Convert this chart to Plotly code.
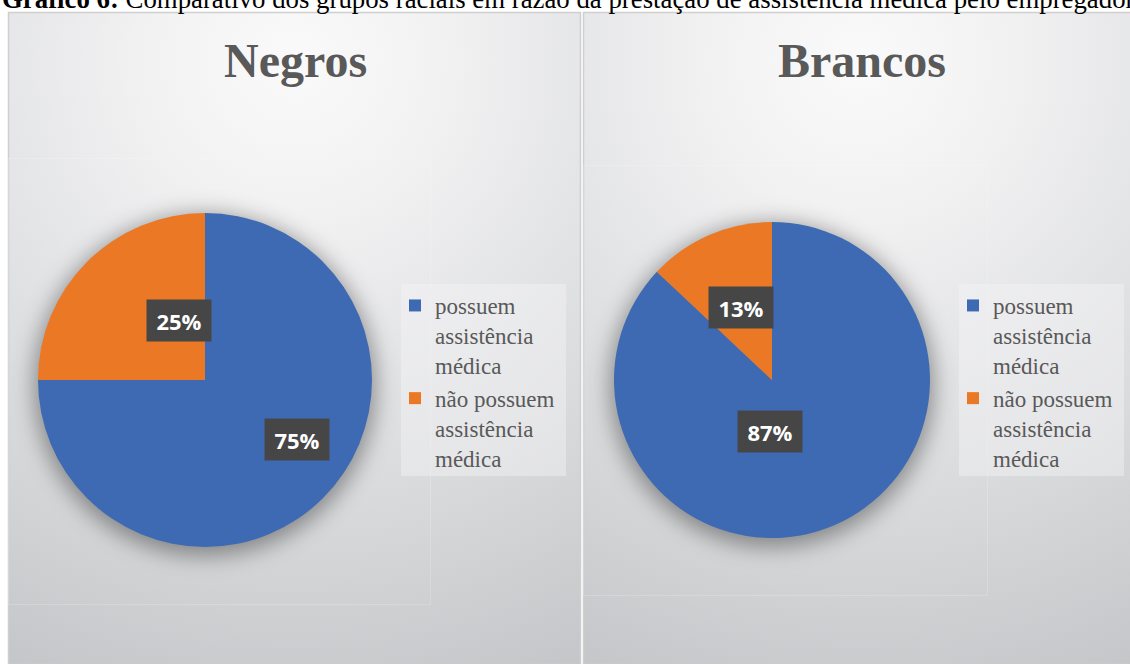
import math
import base64
import plotly.graph_objects as go

W, H = 1130, 664

# ---- data -------------------------------------------------------------
caption_bold = "Gráfico 6:"
caption_text = " Comparativo dos grupos raciais em razão da prestação de assistência médica pelo empregador"
groups = ["Negros", "Brancos"]
categories = ["possuem<br>assistência<br>médica", "não possuem<br>assistência<br>médica"]
negros_values = [75, 25]
brancos_values = [87, 13]
series = [negros_values, brancos_values]

# ---- style / geometry (pixels) -----------------------------------------
colors = ["#3E6AB3", "#EB7825"]
panels = [(8, 12, 580, 664), (583, 12, 1134, 664)]
pie_centers = [(205, 380), (772, 380)]
pie_radii = [167, 158]
title_x = [295, 862]
legend_boxes = [(401, 284, 566, 476), (959, 284, 1124, 476)]
inner_frames = [(8, 158, 430, 604), (583, 165, 987, 595)]
text_grey = "#595959"
serif = "Liberation Serif, Times New Roman, serif"
label_w, label_h = 64, 41


def px(x):
    return x / W


def py(y):
    return 1 - y / H


# ---- panel background: radial gradient + soft pie shadows --------------
svg = [f'<svg xmlns="http://www.w3.org/2000/svg" width="{W}" height="{H}" viewBox="0 0 {W} {H}">',
       '<defs><filter id="sh" x="-50%" y="-50%" width="200%" height="200%">'
       '<feGaussianBlur stdDeviation="11"/></filter>'
       '<filter id="ls" x="-50%" y="-50%" width="200%" height="200%">'
       '<feGaussianBlur stdDeviation="2.5"/></filter>']
for i, (x0, y0, x1, y1) in enumerate(panels):
    cx = (x0 + x1) / 2
    svg.append(f'<radialGradient id="g{i}" gradientUnits="userSpaceOnUse" cx="{cx}" cy="60" r="720">'
               '<stop offset="0" stop-color="#fafafa"/><stop offset="0.2" stop-color="#f2f2f3"/>'
               '<stop offset="0.6" stop-color="#dadbdd"/><stop offset="1" stop-color="#c0c1c4"/>'
               '</radialGradient>')
svg.append('</defs><rect width="100%" height="100%" fill="#ffffff"/>')
for i, (x0, y0, x1, y1) in enumerate(panels):
    svg.append(f'<rect x="{x0 + 0.5}" y="{y0 + 0.5}" width="{x1 - x0}" height="{y1 - y0}" '
               f'fill="url(#g{i})" stroke="#cfcfcf" stroke-width="1.5"/>')
for (fx0, fy0, fx1, fy1) in inner_frames:
    svg.append(f'<rect x="{fx0 + 0.5}" y="{fy0 + 0.5}" width="{fx1 - fx0}" height="{fy1 - fy0}" '
               'fill="none" stroke="#ffffff" stroke-opacity="0.18" stroke-width="1"/>')
for (cx, cy), r in zip(pie_centers, pie_radii):
    svg.append(f'<circle cx="{cx}" cy="{cy + 5}" r="{r + 4}" fill="#000" fill-opacity="0.38" filter="url(#sh)"/>')

# value-label positions: halfway out along each slice's mid-angle
label_pos = []
for k, vals in enumerate(series):
    cx, cy = pie_centers[k]
    r = pie_radii[k]
    total = sum(vals)
    cum = 0
    for v in vals:
        mid = (cum + v / 2) / total * 2 * math.pi
        cum += v
        label_pos.append((v, cx + 0.5 * r * math.sin(mid), cy - 0.5 * r * math.cos(mid)))

for v, lx, ly in label_pos:
    svg.append(f'<rect x="{lx - label_w / 2 + 5}" y="{ly - label_h / 2 + 5}" width="{label_w}" '
               f'height="{label_h}" fill="#000" fill-opacity="0.45" filter="url(#ls)"/>')
svg.append('</svg>')
bg_uri = "data:image/svg+xml;base64," + base64.b64encode("".join(svg).encode()).decode()

fig = go.Figure()

legend_names = ["legend", "legend2"]
for k, vals in enumerate(series):
    cx, cy = pie_centers[k]
    r = pie_radii[k]
    # a trailing space keeps each pie's entries in its own legend
    labels = [c + " " * k for c in categories]
    fig.add_trace(go.Pie(
        labels=labels,
        values=vals,
        sort=False,
        direction="clockwise",
        rotation=0,
        marker=dict(colors=colors, line=dict(width=0)),
        textinfo="none",
        hoverinfo="percent",
        domain=dict(x=[px(cx - r), px(cx + r)], y=[py(cy + r), py(cy - r)]),
        legend=legend_names[k],
        showlegend=True,
    ))

    # panel title
    fig.add_annotation(text=f"<b>{groups[k]}</b>", xref="paper", yref="paper",
                       x=px(title_x[k]), y=py(60), xanchor="center", yanchor="middle",
                       showarrow=False,
                       font=dict(family=serif, size=48, color=text_grey))

    # legend frame
    bx0, by0, bx1, by1 = legend_boxes[k]
    fig.add_shape(type="rect", xref="paper", yref="paper",
                  x0=px(bx0), x1=px(bx1), y0=py(by1), y1=py(by0),
                  fillcolor="rgba(245,245,247,0.45)", line=dict(width=0), layer="below")

for v, lx, ly in label_pos:
    fig.add_annotation(text=f"<b>{v}%</b>", xref="paper", yref="paper", x=px(lx), y=py(ly),
                       showarrow=False, width=label_w - 12, height=label_h - 12, borderpad=6,
                       align="center", valign="middle", bgcolor="#464646",
                       font=dict(color="#ffffff", size=22, family="Open Sans"))

legend_style = dict(
    xanchor="left", yanchor="top", bgcolor="rgba(0,0,0,0)", borderwidth=0,
    font=dict(family=serif, size=23, color=text_grey),
    valign="top", itemclick=False, itemdoubleclick=False, traceorder="normal",
)
fig.update_layout(
    legend=dict(x=px(legend_boxes[0][0] - 6), y=py(legend_boxes[0][1]), **legend_style),
    legend2=dict(x=px(legend_boxes[1][0] - 6), y=py(legend_boxes[1][1]), **legend_style),
)

# caption above the panels (its upper part runs off the top edge)
fig.add_annotation(text=f"<b>{caption_bold}</b>{caption_text}", xref="paper", yref="paper",
                   x=0, y=py(16), xanchor="left", yanchor="bottom", showarrow=False,
                   font=dict(family=serif, size=26.8, color="#000000"))

fig.add_layout_image(source=bg_uri, xref="paper", yref="paper", x=0, y=1,
                     sizex=1, sizey=1, xanchor="left", yanchor="top",
                     sizing="stretch", layer="below")

fig.update_layout(
    width=W, height=H,
    margin=dict(l=0, r=0, t=0, b=0),
    font=dict(family=serif, color=text_grey),
    paper_bgcolor="#ffffff",
    plot_bgcolor="rgba(0,0,0,0)",
)

fig.write_html("out.html", config={"displayModeBar": False})
